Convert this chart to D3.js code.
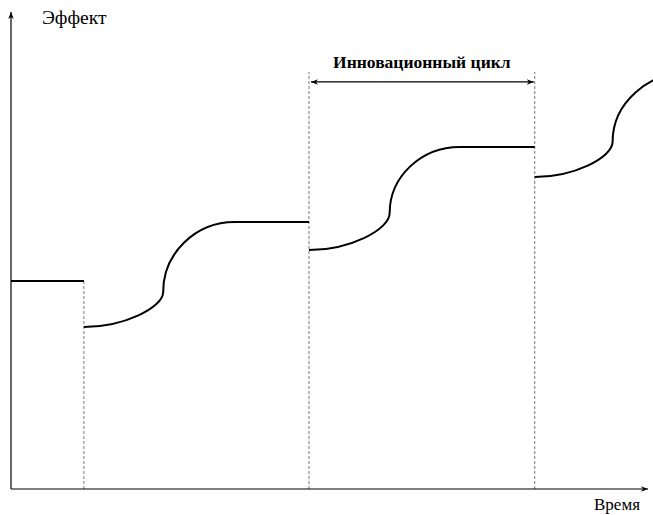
<!doctype html>
<html lang="ru">
<head>
<meta charset="utf-8">
<script src="https://d3js.org/d3.v7.min.js"></script>
<style>
  body { margin: 0; background: #fff; }
</style>
</head>
<body>
<div id="chart"></div>
<script>
// Time positions of each innovation cycle (in time units)
var cycleStart     = [1.03, 4.21, 7.40];
var inflectionTime = [2.15, 5.35, 8.50];
var saturationTime = [3.16, 6.34, 9.60];

// Effect levels (in effect units)
var initialEffect    = 43.8;
var startEffect      = [34.1, 50.3, 65.7];
var inflectionEffect = [41.5, 58.1, 73.1];
var saturationEffect = [56.2, 72.0, 87.8];

// the bracket marking one cycle
var bracketCycle = 1;
var bracketLevel = 85.7;
var bracketTop   = 87.8;

var width = 653, height = 515;
var serif = "Liberation Serif";

var svg = d3.select("#chart").append("svg")
    .attr("width", width)
    .attr("height", height)
    .attr("font-family", serif);

var x = d3.scaleLinear().domain([0, 9]).range([11, 648]);
var y = d3.scaleLinear().domain([0, 100]).range([489, 14]);

// arrow heads
var defs = svg.append("defs");
function marker(id, orient) {
  defs.append("marker")
      .attr("id", id)
      .attr("viewBox", "0 0 10 10")
      .attr("refX", 10).attr("refY", 5)
      .attr("markerWidth", 9).attr("markerHeight", 7)
      .attr("markerUnits", "userSpaceOnUse")
      .attr("orient", orient)
    .append("path")
      .attr("d", "M0,1 L10,5 L0,9 L3,5 Z")
      .attr("fill", "#000");
}
marker("arrow", "auto");
marker("arrowStart", "auto-start-reverse");

// dashed cycle boundaries
svg.append("g").selectAll("line")
  .data(cycleStart)
  .enter().append("line")
    .attr("x1", function(d) { return x(d); })
    .attr("x2", function(d) { return x(d); })
    .attr("y1", y(0))
    .attr("y2", function(d, i) { return i == 0 ? y(initialEffect) : y(bracketTop); })
    .attr("stroke", "#777")
    .attr("stroke-width", 1)
    .attr("stroke-dasharray", "3,2");

// axes
svg.append("line")
    .attr("x1", x(0)).attr("y1", y(0))
    .attr("x2", x(0)).attr("y2", y(100) - 2)
    .attr("stroke", "#000").attr("stroke-width", 1.2)
    .attr("marker-end", "url(#arrow)");
svg.append("line")
    .attr("x1", x(0)).attr("y1", y(0))
    .attr("x2", x(9)).attr("y2", y(0))
    .attr("stroke", "#000").attr("stroke-width", 1.2)
    .attr("marker-end", "url(#arrow)");

svg.append("text")
    .attr("x", 42).attr("y", 24)
    .attr("font-size", 19.5)
    .text("Эффект");
svg.append("text")
    .attr("x", 640).attr("y", 510)
    .attr("text-anchor", "end")
    .attr("font-size", 17)
    .text("Время");

// effect curve: plateau, then S-curve in each cycle
var p = d3.path();
p.moveTo(x(0), y(initialEffect));
p.lineTo(x(cycleStart[0]), y(initialEffect));
cycleStart.forEach(function(t0, i) {
  var x0 = x(t0), y0 = y(startEffect[i]);
  var xi = x(inflectionTime[i]), yi = y(inflectionEffect[i]);
  var xs = x(saturationTime[i]), ys = y(saturationEffect[i]);
  p.moveTo(x0, y0);
  p.bezierCurveTo(x0 + 0.5 * (xi - x0), y0, xi, yi + 0.45 * (y0 - yi), xi, yi);
  p.bezierCurveTo(xi, yi - 0.55 * (yi - ys), xs - 0.55 * (xs - xi), ys, xs, ys);
  if (i + 1 < cycleStart.length) p.lineTo(x(cycleStart[i + 1]), ys);
});
svg.append("path")
    .attr("d", p.toString())
    .attr("fill", "none")
    .attr("stroke", "#000")
    .attr("stroke-width", 2);

// cycle bracket
var b0 = x(cycleStart[bracketCycle]), b1 = x(cycleStart[bracketCycle + 1]);
svg.append("line")
    .attr("x1", b0 + 2).attr("y1", y(bracketLevel))
    .attr("x2", b1 - 1).attr("y2", y(bracketLevel))
    .attr("stroke", "#000").attr("stroke-width", 1.2)
    .attr("marker-start", "url(#arrowStart)")
    .attr("marker-end", "url(#arrow)");
svg.append("text")
    .attr("x", (b0 + b1) / 2).attr("y", y(bracketLevel) - 14)
    .attr("text-anchor", "middle")
    .attr("font-size", 17.5)
    .attr("font-weight", "bold")
    .text("Инновационный цикл");
</script>
</body>
</html>
